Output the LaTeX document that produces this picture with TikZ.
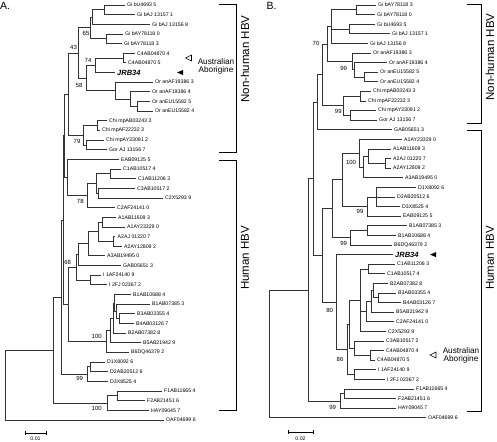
\documentclass[tikz,border=0pt]{standalone}
\usepackage{fontspec}
\setmainfont{Liberation Sans}
\usetikzlibrary{calc}

% clade #1 with its bar at x = #2, joining children #3 and #4
\newcommand\clade[4]{%
  \path let \p1=(#3), \p2=(#4) in coordinate (#1) at (#2,{(\y1+\y2)/2});
  \draw[br] (#1) |- (#3);
  \draw[br] (#1) |- (#4);
}

\begin{document}
\begin{tikzpicture}[x=1pt, y=-1pt,
  br/.style={draw=black!80, line width=0.85pt},
  brk/.style={draw=black, line width=1pt},
  leaf/.style={anchor=west, inner xsep=2.5pt, inner ysep=0.5pt, font=\fontsize{5.2}{6}\selectfont},
  jrb/.style={font=\fontsize{7.5}{8}\selectfont\bfseries\itshape},
  boot/.style={inner sep=0pt, font=\fontsize{6}{7}\selectfont},
  scl/.style={inner sep=0pt, font=\fontsize{5.2}{6}\selectfont},
  sidelabel/.style={rotate=90, inner sep=0pt, font=\fontsize{11.5}{12}\selectfont},
  aborig/.style={align=center, inner sep=0pt, font=\fontsize{8.2}{8.2}\selectfont},
  panel/.style={anchor=north west, inner sep=0pt, font=\fontsize{10.5}{11}\selectfont}]

\useasboundingbox (0,0) rectangle (497,441);

\def \dyA {9.65} % row spacing, panel A
\def \dyB {9.6}  % row spacing, panel B

%%% panel A
\node[panel] at (0,2) {A.};

\foreach \nm/\r/\xe/\t in {a1/1/124.5/Gi bU4693 5, a2/2/134.5/Gi bAJ 13157 1,
  a3/3/149.5/Gi bAJ 13156 8, a4/4/122.5/Gi bAY78118 0, a5/5/121.5/Gi bAY78118 3,
  a6/6/134.5/C4AB04870 4, a7/7/125.5/C4AB04870 5, a9/9/152.5/Or anAF19386 3,
  a10/10/149.5/Or anAF19386 4, a11/11/149.5/Or anEU15582 5, a12/12/152.5/Or anEU15582 4,
  a13/13/106.5/Chi mpAB03243 3, a14/14/99.5/Chi mpAF22232 3, a15/15/103.5/Chi mpAY33091 2,
  a16/16/106.5/Gor AJ 13156 7, a17/17/118.5/EAB09125 5, a18/18/120.5/C1AB10517 4,
  a19/19/135.5/C1AB11206 3, a20/20/134.5/C3AB10517 2, a21/21/162.5/C2X5293 9,
  a22/22/114.5/C2AF24141 0, a23/23/115.5/A1AB11609 3, a24/24/124.5/A1AY23329 0,
  a25/25/115/A2AJ 01220 7, a26/26/121.5/A2AY12809 2, a27/27/104.5/A3AB19495 0,
  a28/28/120.5/GAB05651 3, a29/29/100.5/I 1AF24140 9, a30/30/106.5/I 2FJ 02367 2,
  a31/31/130.5/B1AB10688 4, a32/32/149.5/B1AB07385 3, a33/33/134.5/B3AB03355 4,
  a34/34/133.5/B4AB03126 7, a35/35/125.5/B2AB07382 8, a36/36/140.5/B5AB21942 9,
  a37/37/128.5/B6DQ46379 2, a38/38/104.5/D1X8092 6, a39/39/107.5/D2AB20512 6,
  a40/40/107.5/D3X8525 4, a41/41/161.5/F1AB11665 4, a42/42/144.5/F2AB21451 6,
  a43/43/148.5/HAY09045 7, a44/44/163.5/OAF04699 6}
  \node[leaf] (\nm) at (\xe,{5+(\r-1)*\dyA}) {\t};
\node[leaf, jrb] (a8) at (114.5,{5+7*\dyA}) {JRB34};

\foreach \nm/\xp/\cf/\cl in {Ag1/104/a1/a2, Ag2/92/Ag1/a3, Ay1/106/a4/a5,
  A65/90.5/Ag2/Ay1, Ac4/123/a6/a7, A74/95/Ac4/a8, Aeu/137/a11/a12, Ao2/130/a10/Aeu,
  Ao/115/a9/Ao2, A58/86/A74/Ao, A43/78/A65/A58, Ach1/97/a13/a14, Ach2/86/a15/a16,
  A79/83/Ach1/Ach2, Anh/68/A43/A79, Acc1/110/a18/a19, Acc2/98/a20/a21,
  Acc/96/Acc1/Acc2, A78/87/Acc/a22, Aq/67/a17/A78, Ap0/64.5/Anh/Aq,
  Aa1/102/a23/a24, Aa2/113/a25/a26, Aa12/98/Aa1/Aa2, Aaa/88/Aa12/a27,
  Aag/78/Aaa/a28, Aii/90/a29/a30, A68/76/Aag/Aii, Ab34/119/a33/a34,
  Ab134/116/a32/Ab34, Ab1/114/a31/Ab134, Ab2/113/Ab1/a35, Ab5/110/Ab2/a36,
  A100/106/Ab5/a37, Aagb/68/A68/A100, Ap1/63/Ap0/Aagb, Add/90/a38/a39,
  A99/87/Add/a40, A61/61/Ap1/A99, Aff/117/a41/a42, Afh/107/Aff/a43,
  A53/53/A61/Afh, Aroot/5/A53/a44}
  {\clade{\nm}{\xp}{\cf}{\cl}}

% bootstrap values
\foreach \bx/\by/\bv in {73.5/47/43, 86/33/65, 88/60.5/74, 79/85/58, 77/141.7/79,
  80.3/201.7/78, 67.7/262/68, 96.7/336.7/100, 79.7/378/99, 96.7/408/100}
  \node[boot] at (\bx,\by) {\bv};

\draw[brk] (219,5) -| (236,152) -- (219,152);
\draw[brk] (219,160) -| (236,410) -- (219,410);
\node[sidelabel] at (245,59) {Non-human HBV};
\node[sidelabel] at (245,258) {Human HBV};

\draw[line width=0.6pt] (191.5,55) -- (185.5,58) -- (191.5,61) -- cycle;
\fill (183,70) -- (177,72.5) -- (183,75) -- cycle;
\node[aborig] at (216,66) {Australian\\Aborigine};

\draw[brk] (25,431) -- (25,435) (25,433) -- (46,433) (46,431) -- (46,435);
\node[scl] at (35.5,439) {0.01};

%%% panel B
\node[panel] at (266.5,2) {B.};

\foreach \nm/\r/\xe/\t in {b1/1/375.5/Gi bAY78118 3, b2/2/374.5/Gi bAY78118 0,
  b3/3/374.5/Gi bU4693 5, b4/4/389.5/Gi bAJ 13157 1, b5/5/367.5/Gi bAJ 13156 8,
  b6/6/370.5/Or anAF19386 3, b7/7/386.5/Or anAF19386 4, b8/8/377.5/Or anEU15582 5,
  b9/9/377.5/Or anEU15582 4, b10/10/370.5/Chi mpAB03243 3, b11/11/365.5/Chi mpAF22232 3,
  b12/12/375.5/Chi mpAY33091 2, b13/13/376.5/Gor AJ 13156 7, b14/14/391.5/GAB05651 3,
  b15/15/401.5/A1AY23329 0, b16/16/390.5/A1AB11609 3, b17/17/390.5/A2AJ 01220 7,
  b18/18/390.5/A2AY12809 2, b19/19/402.5/A3AB19495 0, b20/20/415.5/D1X8092 6,
  b21/21/394.5/D2AB20512 6, b22/22/399.5/D3X8525 4, b23/23/400.5/EAB09125 5,
  b24/24/406.5/B1AB07385 3, b25/25/395.5/B1AB10688 4, b26/26/391.5/B6DQ46379 2,
  b28/28/394.5/C1AB11206 3, b29/29/384.5/C1AB10517 4, b30/30/387.5/B2AB07382 8,
  b31/31/395.5/B3AB03355 4, b32/32/400.5/B4AB03126 7, b33/33/393.5/B5AB21942 9,
  b34/34/393.5/C2AF24141 0, b35/35/385.5/C2X5293 9, b36/36/383.5/C3AB10517 2,
  b37/37/383.5/C4AB04870 4, b38/38/374.5/C4AB04870 5, b39/39/375.5/I 1AF24140 9,
  b40/40/384.5/I 2FJ 02367 2, b41/41/413.5/F1AB11665 4, b42/42/395.5/F2AB21451 6,
  b43/43/395.5/HAY09045 7, b44/44/425.5/OAF04699 6}
  \node[leaf] (\nm) at (\xe,{5+(\r-1)*\dyB}) {\t};
\node[leaf, jrb] (b27) at (392.5,{5+26*\dyB}) {JRB34};

\foreach \nm/\xp/\cf/\cl in {Bg1/356/b1/b2, Bg2/349/b3/b4, Bg/331/Bg1/b5,
  Bo1/364/b8/b9, Bo2/354/b7/Bo1, Bo/352/b6/Bo2, Bn70/327/Bg/Bo,
  Bc1/360/b10/b11, Bc2/350/b12/b13, Bc/343/Bc1/Bc2, Bnh/322/Bn70/Bc,
  Bnhg/317/Bnh/b14, Ba2/385/b17/b18, Ba12/368/b16/Ba2, Ba3/363/Ba12/b19,
  Ba/359/b15/Ba3, Bd/376/b20/b22, Bde/367/Bd/b23, Bade/342/Ba/Bde,
  Bb1/367/b24/b25, Bb/350/Bb1/b26, Badeb/332/Bade/Bb, Bcp/368/b28/b29,
  Bb34/378/b31/b32, Bb234/373/b30/Bb34, Bna/371/Bb234/b33, Bnb/366/Bna/b34,
  Bnc/360/Bcp/b35, Bc4/370/b37/b38, Bc34/354/b36/Bc4, Bnd/349/Bnc/Bc34,
  Bi/354/b39/b40, Bn86/347/Bnd/Bi, Bn80/336/b27/Bn86, Bn322/322/Badeb/Bn80,
  Bn313/313/Bnhg/Bn322, Bf/344/b41/b42, Bfh/340/Bf/b43, Bin/308/Bn313/Bfh,
  Broot/269/Bin/b44}
  {\clade{\nm}{\xp}{\cf}{\cl}}
% three-way splits
\draw[br] (Bg) |- (Bg2);
\draw[br] (Bd) |- (b21);
\draw[br] (Bnc) |- (Bnb);

\foreach \bx/\by/\bv in {316/43/70, 343.7/68.7/99, 338.3/111/99, 351/162/100,
  360/211.3/99, 343.7/243.3/99, 329.7/310.5/80, 340/359.5/86, 332.7/407/99}
  \node[boot] at (\bx,\by) {\bv};

\draw[brk] (467,5) -| (481,123) -- (467,123);
\draw[brk] (467,130) -| (481,411) -- (467,411);
\node[sidelabel] at (490,57) {Non-human HBV};
\node[sidelabel] at (490,258) {Human HBV};

\fill (436,252.1) -- (430,254.6) -- (436,257.1) -- cycle;
\draw[line width=0.6pt] (436,352) -- (430,355) -- (436,358) -- cycle;
\node[aborig] at (461,355) {Australian\\Aborigine};

\draw[brk] (288,430) -- (288,434) (288,432) -- (313,432) (313,430) -- (313,434);
\node[scl] at (300.5,438.5) {0.02};

\end{tikzpicture}
\end{document}
